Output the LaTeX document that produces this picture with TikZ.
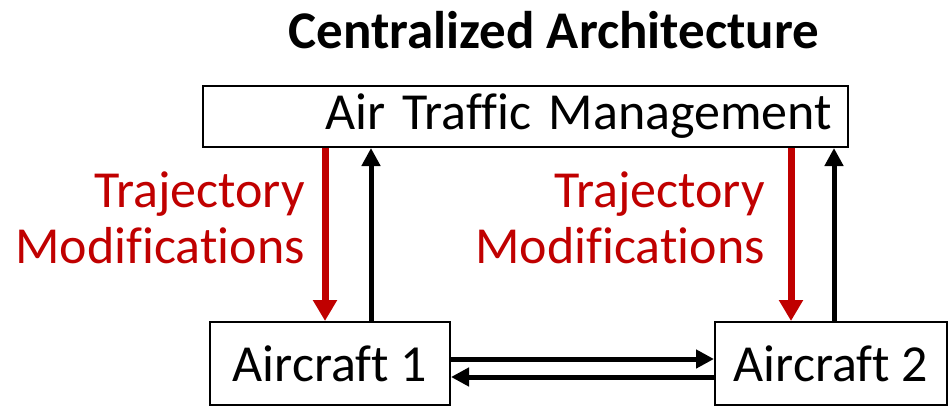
\documentclass[tikz,border=0pt]{standalone}
\usepackage{fontspec}
\setmainfont{Carlito}[Ligatures=CommonOff]
\usepackage{tikz}
\usetikzlibrary{arrows.meta}
\definecolor{modred}{RGB}{192,0,0}
\tikzstyle{box} = [draw,line width=2pt,inner sep=0pt,font=\fontsize{52}{56}\selectfont]
\tikzstyle{arrow} = [line width=5pt,-{Triangle[width=18pt,length=18pt]}]
\tikzstyle{modarrow} = [line width=7pt,modred,-{Triangle[width=23pt,length=21pt]}]
\tikzstyle{modtext} = [modred,inner sep=0pt,align=right,anchor=east,font=\fontsize{52}{56}\selectfont]

\begin{document}
\begin{tikzpicture}[x=1pt,y=-1pt]
    \useasboundingbox (0,0) rectangle (950,407);
    \node[inner sep=0pt,font=\fontsize{53}{60}\selectfont\bfseries] (title) at (554,30) {Centralized Architecture};
    % top box and the two aircraft
    \node[box,minimum width=645pt,minimum height=61pt,text width=613pt,inner xsep=16pt,align=right] (atm) at (525.5,116.5) {Air Traffic Management};
    \node[box,minimum width=240pt,minimum height=83pt] (ac1) at (330,363.5) {Aircraft 1};
    \node[box,minimum width=232pt,minimum height=83pt] (ac2) at (831,363.5) {Aircraft 2};
    \coordinate (m1) at ([xshift=-5pt]ac1.north);
    \coordinate (r1) at ([xshift=41pt]ac1.north);
    \coordinate (m2) at ([xshift=-40pt]ac2.north);
    \coordinate (r2) at ([xshift=3pt]ac2.north);
    % up and down links
    \draw[modarrow] (m1 |- atm.south) -- (m1);
    \draw[arrow] (r1) -- (r1 |- atm.south);
    \draw[modarrow] (m2 |- atm.south) -- (m2);
    \draw[arrow] (r2) -- (r2 |- atm.south);
    \node[modtext] (mod1) at (305,218) {Trajectory\\Modifications};
    \node[modtext] (mod2) at (765,218) {Trajectory\\Modifications};
    % aircraft to aircraft
    \draw[arrow] ([yshift=4.5pt]ac1.east) -- ([yshift=4.5pt]ac2.west);
    \draw[arrow] ([yshift=-13.5pt]ac2.west) -- ([yshift=-13.5pt]ac1.east);
\end{tikzpicture}
\end{document}
